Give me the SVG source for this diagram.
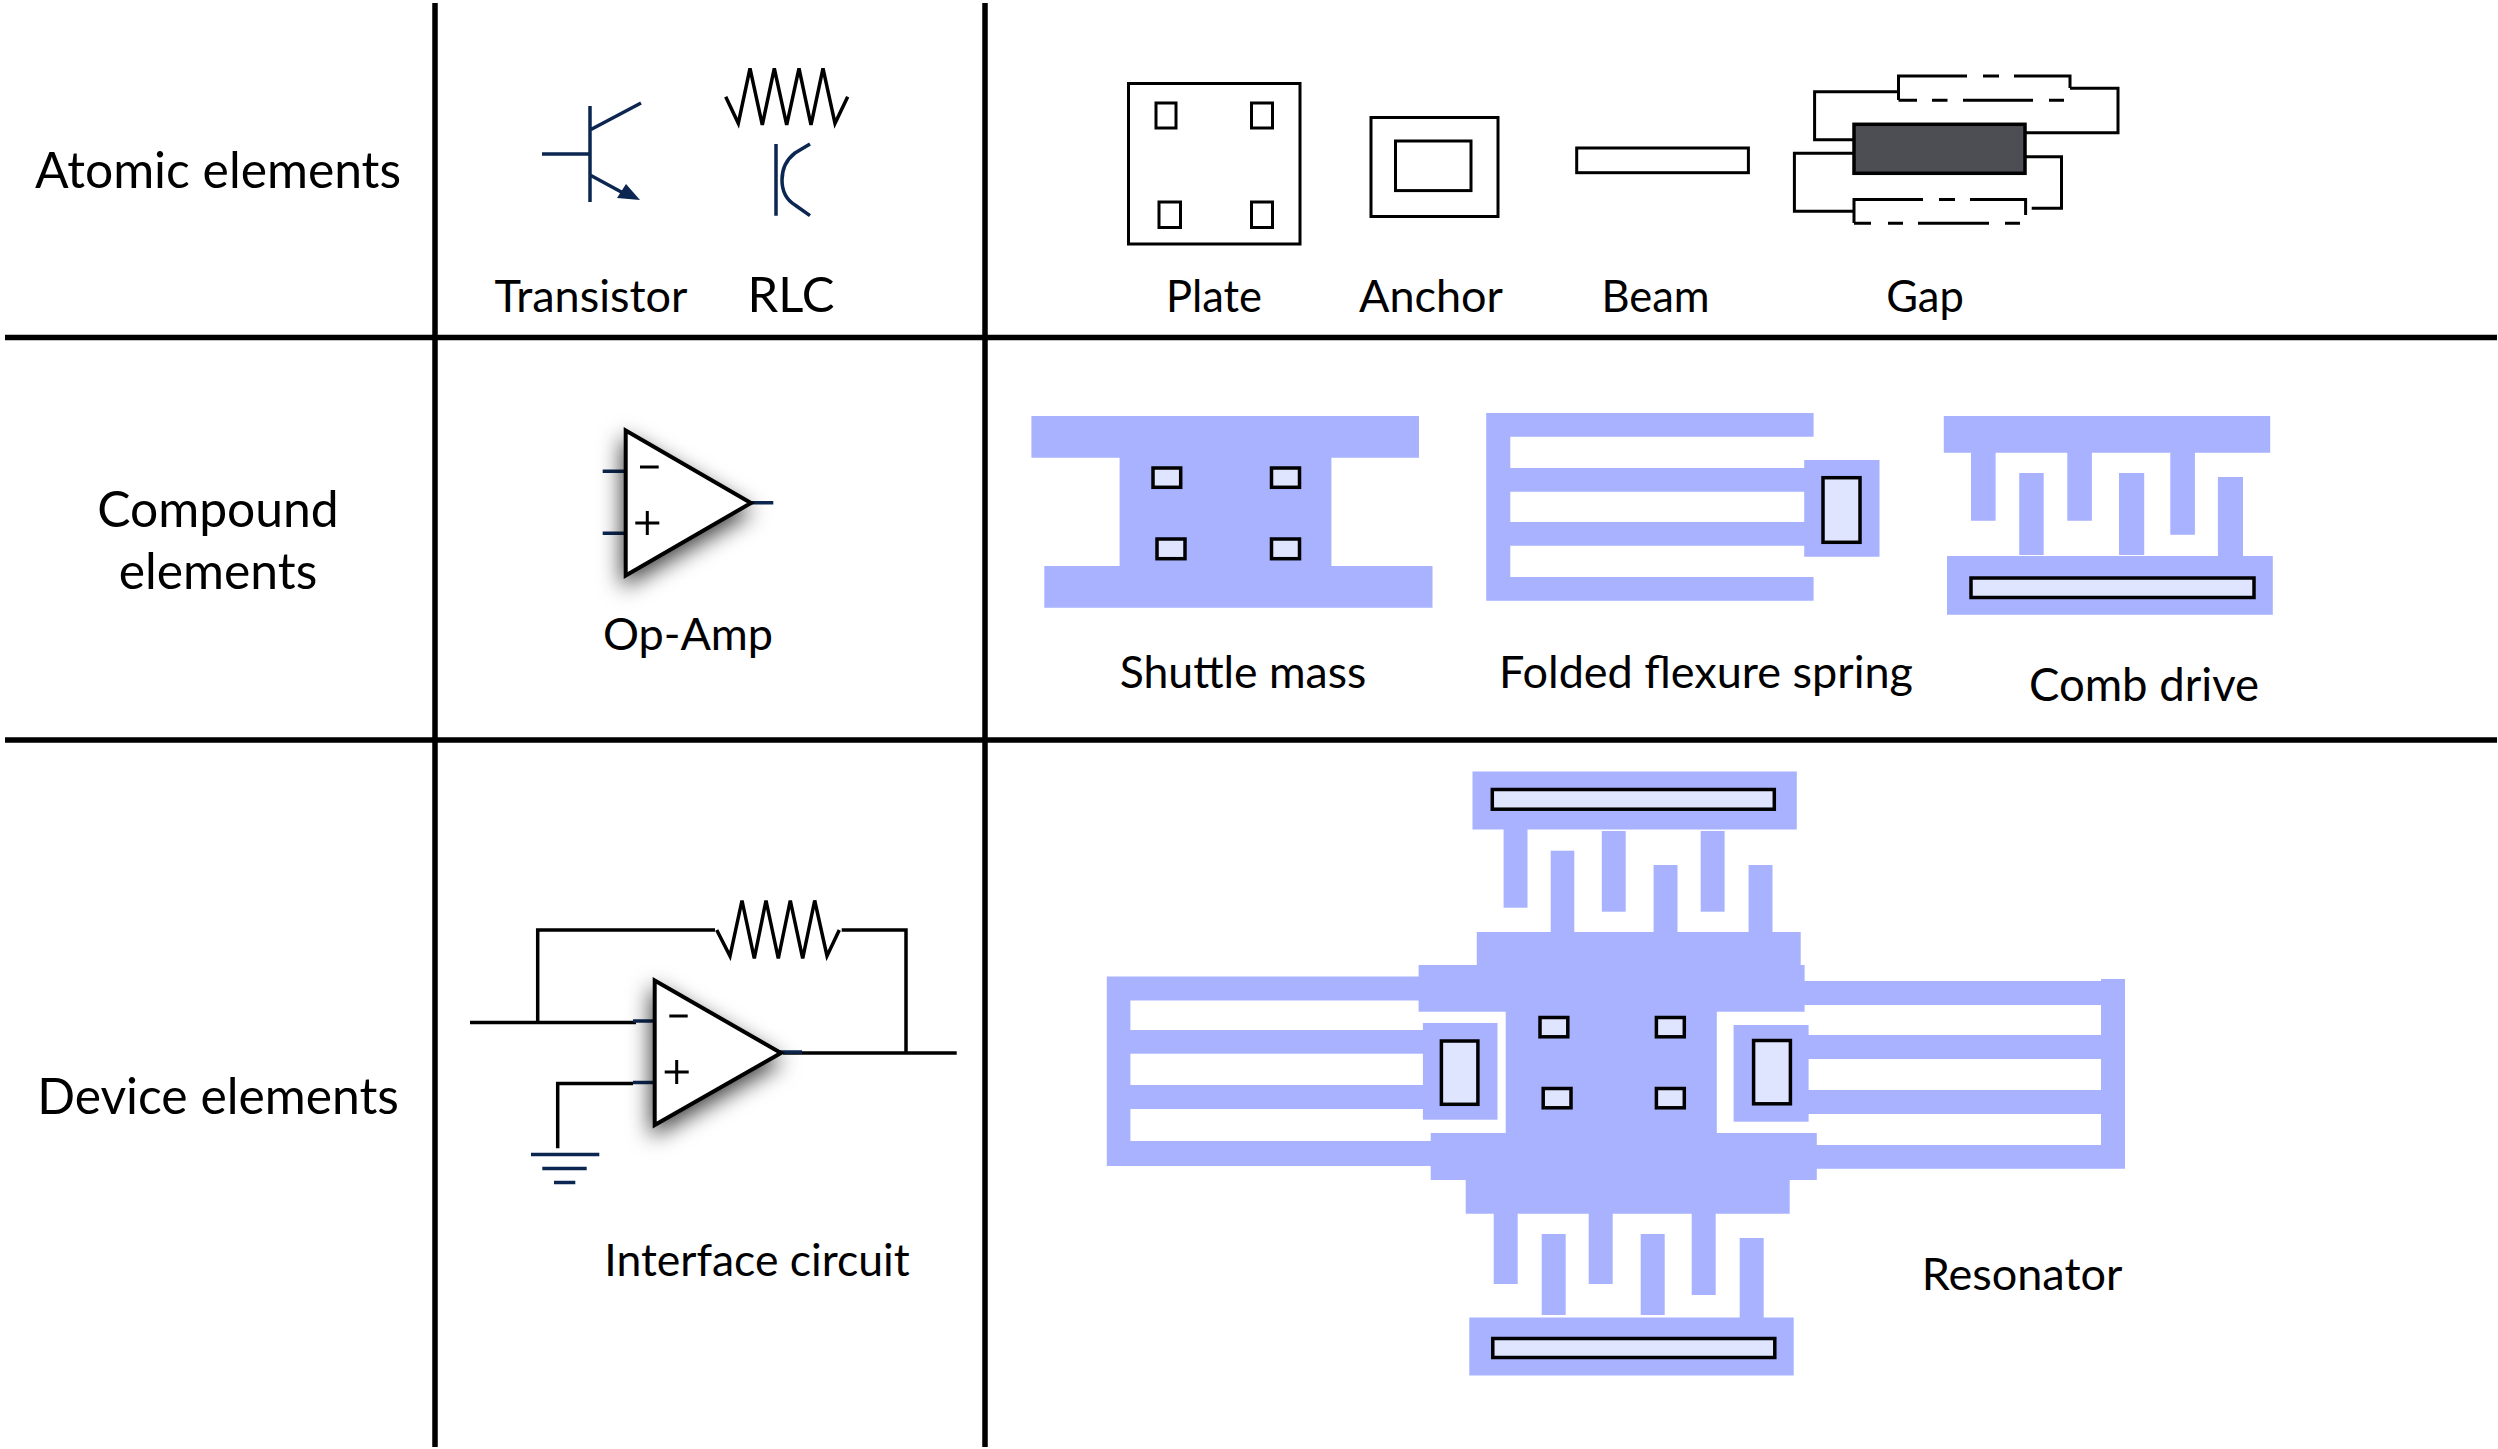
<svg xmlns="http://www.w3.org/2000/svg" width="2498" height="1449" viewBox="0 0 2498 1449">
<style>
text{font-family:"Lato","Open Sans",sans-serif;font-size:45px;fill:#000;text-anchor:middle}
.r{font-size:49.800px}
.s{font-size:43.500px}
.i{font-size:44.500px}
.m{fill:#a8b2ff;stroke:none}
.c{fill:#e0e5ff;stroke:#000;stroke-width:3.5}
.o{fill:#fff;stroke:#000;stroke-width:3}
.w{fill:none;stroke:#000;stroke-width:3.5}
.n{fill:none;stroke:#0b2650;stroke-width:3.5}
.g{fill:none;stroke:#000;stroke-width:5.5}
.t{fill:#fff;stroke:#000;stroke-width:4;filter:url(#sh)}
</style>
<defs>
<filter id="sh" x="-40%" y="-40%" width="180%" height="180%"><feDropShadow dx="-2" dy="9" stdDeviation="11" flood-color="#000" flood-opacity=".75"/></filter>
</defs>
<rect width="2498" height="1449" fill="#fff"/>
<g id="grid" class="g">
<path class="g" d="M435 3V1447M985 3V1447M5 337.500H2497M5 740H2497"/>
</g>
<g id="row-labels">
<text class="r" x="218" y="188">Atomic elements</text>
<text class="r" x="218" y="527">Compound</text>
<text class="r" x="218" y="589">elements</text>
<text class="r" x="218" y="1114">Device elements</text>
</g>
<g id="transistor">
<path class="n" d="M590 106V202M542 154H590M590 130L641 103M590 175L625 194"/>
<path fill="#0b2650" d="M640 200L617 198L626 184Z"/>
<text x="591" y="312">Transistor</text>
</g>
<g id="rlc">
<path class="w" d="M725.700 96.700L738.300 123.300L750 68.300L762.300 125L774.300 68.300L786.700 125L799 68.300L811 125L823 68.300L835 123.300L847.700 96.700"/>
<path class="n" d="M776 144V215.700M810 144L795 153Q782 163 782 180Q782 197 795 205L810 215.700"/>
<text x="791" y="312" style="font-size:49px">RLC</text>
</g>
<g id="plate">
<rect class="o" x="1128.500" y="83.500" width="171.500" height="160.500"/>
<rect class="o" x="1156" y="103" width="20" height="25"/>
<rect class="o" x="1251.500" y="103" width="21" height="25"/>
<rect class="o" x="1159" y="202" width="21.500" height="25.500"/>
<rect class="o" x="1251.500" y="202" width="21" height="25.500"/>
<text class="s" x="1214" y="312">Plate</text>
</g>
<g id="anchor">
<rect class="o" x="1371" y="117.500" width="127" height="99"/>
<rect class="o" x="1395.500" y="141" width="75.500" height="49.600"/>
<text x="1431" y="312">Anchor</text>
</g>
<g id="beam">
<rect class="o" x="1576.700" y="148" width="171.700" height="24.700"/>
<text class="s" x="1655.500" y="312">Beam</text>
</g>
<g id="gap">
<path class="w" style="stroke-width:3" d="M1898.500 91.700H1814.600V139.700H1854M2070 88.300H2118V132.700H2025.600M1854 211.300H1794.400V153.300H1854M2031.700 208.300H2061.500V156.700H2025.600"/>
<path class="w" style="stroke-width:3" d="M1898.500 100V76H1967M1983 76H1999M2014 76H2070V88M1854 223V199.500H1923M1939 199.500H1955M1970 199.500H2025.600V215"/>
<path class="w" style="stroke-width:3" d="M1898.500 100.300H1917M1932 100.300H1947.500M1963 100.300H2033M2049 100.300H2064M1854 223.300H1871M1888 223.300H1903M1918 223.300H1989M2005 223.300H2020"/>
<rect x="1854" y="124.300" width="171" height="49" fill="#4d4e53" stroke="#000" stroke-width="3.500"/>
<text class="s" x="1925" y="312">Gap</text>
</g>
<g id="op-amp">
<path class="n" d="M602.700 471.300H626M602.700 533.300H626M750 502.700H773.300"/>
<path class="t" d="M625.700 430.500L751 503L625.700 575.500Z"/>
<path class="w" style="stroke-width:3" d="M640 467H658.700M635.300 523H659.300M647.300 511V535"/>
<text x="688" y="650">Op-Amp</text>
</g>
<g id="shuttle-mass">
<path class="m" d="M1031.400 416H1419V457.700H1331.400V566H1432.500V607.700H1044.300V566H1119.600V457.700H1031.400Z"/>
<rect class="c" x="1153" y="468" width="27.700" height="19.300"/>
<rect class="c" x="1271.500" y="468" width="28" height="19.300"/>
<rect class="c" x="1157" y="539" width="28" height="19.700"/>
<rect class="c" x="1271.500" y="539" width="28" height="19.700"/>
<text class="i" x="1243" y="688">Shuttle mass</text>
</g>
<g id="folded-flexure-spring">
<path class="m" d="M1486.200 413H1813.600V436.700H1510.300V468H1804.200V460H1879.500V556.700H1804.200V545.700H1510.300V577H1813.600V600.700H1486.200ZM1510.300 491.700V522H1804.200V491.700Z" fill-rule="evenodd"/>
<rect class="c" x="1823" y="477.700" width="37" height="64.600"/>
<text x="1706" y="688">Folded flexure spring</text>
</g>
<g id="comb-drive">
<path class="m" d="M1943.800 416H2270.200V452.700H2194.900V534.700H2170.300V452.700H2091.900V520.700H2067.300V452.700H1995.600V520.700H1971V452.700H1943.800Z"/>
<rect class="m" x="2019.200" y="473" width="24.500" height="82"/>
<rect class="m" x="2119" y="473" width="25.200" height="82"/>
<path class="m" d="M1947 556H2217.900V477H2243V556H2272.800V614.700H1947Z"/>
<rect class="c" x="1971" y="578" width="283" height="19.500"/>
<text x="2144" y="701" style="font-size:45.500px">Comb drive</text>
</g>
<g id="connectors">
<path class="w" d="M537.700 1022V930H715M470 1022.500H636M783 1053H956.700M906 1053V930H841.700M557.700 1148.300V1083.500H633"/>
<path class="n" d="M633 1021H655M633 1082.500H655M780 1052H802"/>
</g>
<g id="feedback-resistor">
<path class="w" d="M716.700 930L730 956L742 900.500L754.300 958.500L766 900.500L778.300 958.500L790.300 900.500L802.700 958.500L814.700 900.500L827 956L839.300 930"/>
</g>
<g id="interface-op-amp">
<path class="t" d="M654.700 980.500L781 1053L654.700 1125Z"/>
<path class="w" style="stroke-width:3" d="M669.300 1016H687.700M664.700 1072H688.700M676.700 1060V1084"/>
</g>
<g id="ground">
<path class="n" d="M531 1154.500H599.300M542.300 1168.500H586.700M554 1182.500H575.300"/>
</g>
<g id="interface-label"><text class="i" x="757" y="1276">Interface circuit</text></g>
<g id="resonator">
<rect class="m" x="1472.500" y="771.500" width="324.300" height="58"/>
<rect class="m" x="1503.600" y="829" width="23.900" height="78.700"/>
<rect class="m" x="1601.800" y="831" width="23.900" height="80.700"/>
<rect class="m" x="1700.700" y="831" width="23.900" height="80.700"/>
<rect class="m" x="1550.700" y="850.700" width="23.600" height="82"/>
<rect class="m" x="1653.600" y="865" width="23.900" height="68"/>
<rect class="m" x="1748.600" y="865" width="23.900" height="68"/>
<path class="m" d="M1476.800 932H1800.700V965H1804.600V981H2101V979H2125V1168.700H1816.800V1180H1789.700V1213.700H1465.700V1180H1430.700V1166H1106.800V976.500H1418.600V965H1476.800Z"/>
<path fill="#fff" d="M1130.400 1000.500H1418.600V1011.700H1505.700V1133H1430.700V1141H1130.400Z"/>
<path fill="#fff" d="M1804.600 1005H2101V1145H1816.800V1133H1716.800V1011.700H1804.600Z"/>
<rect class="m" x="1130" y="1030" width="300" height="23.700"/>
<rect class="m" x="1130" y="1085" width="300" height="24"/>
<rect class="m" x="1422.900" y="1023" width="74.600" height="96.700"/>
<rect class="m" x="1800" y="1035" width="301.500" height="24"/>
<rect class="m" x="1800" y="1090" width="301.500" height="24"/>
<rect class="m" x="1733.600" y="1025" width="75" height="96.700"/>
<rect class="c" x="1441.400" y="1041" width="36.500" height="63.300"/>
<rect class="c" x="1753.600" y="1040.500" width="36.800" height="63.300"/>
<rect class="c" x="1540" y="1017.500" width="27.800" height="19.300"/>
<rect class="c" x="1656.400" y="1017.500" width="27.900" height="19.300"/>
<rect class="c" x="1543.200" y="1088.500" width="27.800" height="19.300"/>
<rect class="c" x="1656.400" y="1088.500" width="27.900" height="19.300"/>
<rect class="c" x="1492.300" y="789.500" width="282" height="19.700"/>
<rect class="m" x="1493.700" y="1213" width="24" height="71"/>
<rect class="m" x="1588.700" y="1213" width="24" height="71"/>
<rect class="m" x="1691.700" y="1213" width="24" height="82"/>
<rect class="m" x="1541.700" y="1234" width="24" height="81"/>
<rect class="m" x="1640.700" y="1234" width="24" height="81"/>
<rect class="m" x="1739.700" y="1238" width="24" height="80"/>
<rect class="m" x="1469.300" y="1317.500" width="324.400" height="58"/>
<rect class="c" x="1492.800" y="1338.500" width="282" height="19"/>
<text x="2022" y="1290">Resonator</text>
</g>
</svg>
